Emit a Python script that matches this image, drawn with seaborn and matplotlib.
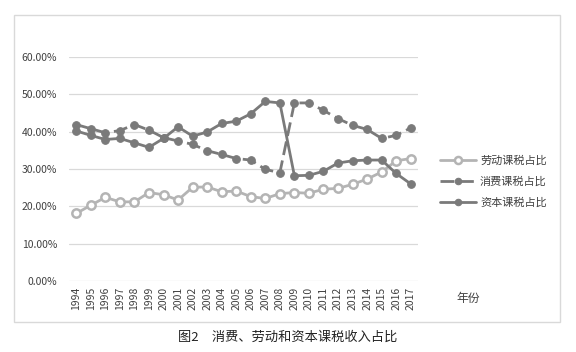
import matplotlib
matplotlib.use("Agg")
import matplotlib.pyplot as plt
import seaborn as sns
import pandas as pd
from matplotlib.patches import Rectangle
from matplotlib.ticker import FuncFormatter

years = list(range(1994, 2018))
labor = [18.1, 20.3, 22.4, 21.2, 21.2, 23.7, 23.1, 21.7, 25.1, 25.2, 23.9, 24.1,
         22.6, 22.1, 23.4, 23.7, 23.5, 24.6, 24.8, 25.9, 27.3, 29.2, 32.2, 32.8]
consumption = [41.9, 40.8, 39.7, 40.3, 41.9, 40.4, 38.4, 37.5, 36.6, 34.9, 33.9, 32.8,
               32.4, 29.9, 29.0, 47.7, 47.7, 45.7, 43.5, 41.7, 40.6, 38.2, 39.0, 41.0]
capital = [40.2, 39.0, 37.9, 38.2, 37.0, 35.8, 38.2, 41.3, 38.8, 39.9, 42.2, 42.8,
           44.8, 48.1, 47.7, 28.2, 28.3, 29.4, 31.6, 32.2, 32.4, 32.4, 28.8, 26.0]
series_names = ["劳动课税占比", "消费课税占比", "资本课税占比"]
yticks = [0, 10, 20, 30, 40, 50, 60]

sns.set_style("white")
plt.rcParams['font.family'] = ['Noto Sans CJK SC', 'DejaVu Sans']

fig = plt.figure(figsize=(5.76, 3.52), dpi=100)
fig.patch.set_facecolor("white")
fig.patches.append(Rectangle((14/576, 1-322/352), (560-14)/576, (322-15)/352,
                             transform=fig.transFigure, fill=False,
                             edgecolor="#d9d9d9", linewidth=1.0, zorder=0))

ax = fig.add_axes([69/576, 1-281/352, (418-69)/576, (281-57)/352])
idx = list(range(len(years)))
df = pd.DataFrame({"i": idx, "labor": [v/100 for v in labor],
                   "cons": [v/100 for v in consumption],
                   "cap": [v/100 for v in capital]})

light = "#b4b4b4"
dark = "#7a7a7a"
sns.lineplot(data=df, x="i", y="labor", ax=ax, color=light, linewidth=2.0,
             marker="o", markersize=6, markerfacecolor="white",
             markeredgecolor=light, markeredgewidth=1.8, label=series_names[0])
sns.lineplot(data=df, x="i", y="cons", ax=ax, color=dark, linewidth=2.0,
             linestyle=(0, (5, 2)), marker="o", markersize=5.5,
             markerfacecolor=dark, markeredgecolor=dark, label=series_names[1])
sns.lineplot(data=df, x="i", y="cap", ax=ax, color=dark, linewidth=2.0,
             marker="o", markersize=5.5, markerfacecolor=dark,
             markeredgecolor=dark, label=series_names[2])

ax.set_xlim(-0.5, len(years) - 0.5)
ax.set_ylim(0, 0.6)
ax.set_yticks([t/100 for t in yticks])
ax.yaxis.set_major_formatter(FuncFormatter(lambda v, p: f"{v*100:.2f}%"))
ax.set_xticks(idx)
ax.set_xticklabels([str(y) for y in years], rotation=90, fontsize=7.5, color="#404040")
ax.tick_params(axis="y", labelsize=7.5, labelcolor="#404040", length=0, pad=8.5)
ax.tick_params(axis="x", length=0, pad=4)
ax.grid(axis="y", color="#d9d9d9", linewidth=0.9)
ax.set_axisbelow(True)
for s in ax.spines.values():
    s.set_visible(False)
ax.set_xlabel("")
ax.set_ylabel("")
ax.patch.set_alpha(0)

leg = ax.legend(loc="upper left", bbox_to_anchor=(430/576, 1-145/352),
                bbox_transform=fig.transFigure, frameon=False, fontsize=8,
                handlelength=3.2, labelspacing=0.95, handletextpad=0.4,
                markerscale=0.85)
for t in leg.get_texts():
    t.set_color("#404040")

fig.text(456/576, 1-298/352, "年份", fontsize=8.5, color="#404040", va="center")
fig.text(288/576, 1-337/352, "图2　消费、劳动和资本课税收入占比", fontsize=9.5,
         color="#222222", ha="center", va="center")

fig.savefig("out.png", dpi=100)
